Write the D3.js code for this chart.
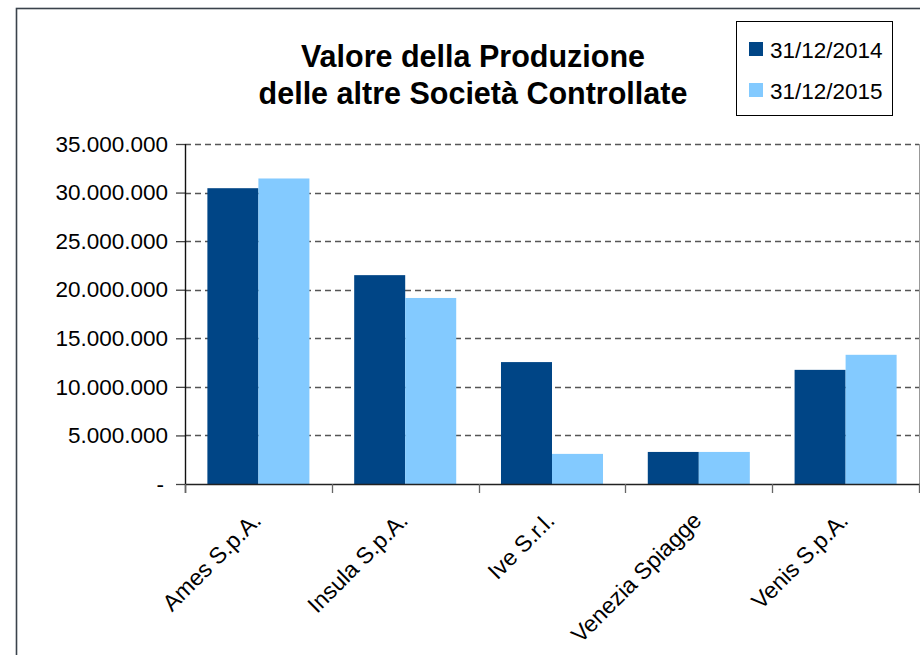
<!DOCTYPE html>
<html>
<head>
<meta charset="utf-8">
<script src="https://cdn.jsdelivr.net/npm/d3@7"></script>
<style>
  body { margin: 0; background: #fff; }
  svg { display: block; font-family: "Liberation Sans", Arial, sans-serif; }
</style>
</head>
<body>
<script>
// dati
var categories = ["Ames S.p.A.", "Insula S.p.A.", "Ive S.r.l.", "Venezia Spiagge", "Venis S.p.A."];
var series = ["31/12/2014", "31/12/2015"];
var values2014 = [30450000, 21500000, 12550000, 3300000, 11750000];
var values2015 = [31450000, 19150000, 3100000, 3300000, 13300000];
var yTicks = [0, 5000000, 10000000, 15000000, 20000000, 25000000, 30000000, 35000000];
var colors = ["#004586", "#83caff"];
var titleLines = ["Valore della Produzione", "delle altre Società Controllate"];

var width = 920, height = 655;
var svg = d3.select("body").append("svg")
  .attr("width", width)
  .attr("height", height);

// bordo esterno
svg.append("rect")
  .attr("x", 16.5).attr("y", 8.5)
  .attr("width", 1000).attr("height", 1000)
  .attr("fill", "none")
  .attr("stroke", "#3a434c")
  .attr("stroke-width", 1.6);

var plot = {left: 185, top: 144, right: 919, bottom: 484};

var y = d3.scaleLinear().domain([0, 35000000]).range([plot.bottom, plot.top]);
var x = d3.scaleBand().domain(categories).range([plot.left, plot.right])
  .paddingInner(0.305).paddingOuter(0.1525);
var xs = d3.scaleBand().domain(series).range([0, x.bandwidth()]);

// griglia
svg.append("g").selectAll("line").data(yTicks.slice(1)).enter().append("line")
  .attr("x1", plot.left).attr("x2", plot.right)
  .attr("y1", function (d) { return Math.round(y(d)) + 0.5; })
  .attr("y2", function (d) { return Math.round(y(d)) + 0.5; })
  .attr("stroke", "#555")
  .attr("stroke-width", 1.3)
  .attr("stroke-dasharray", "6,4");

// bordo destro area grafico
svg.append("line")
  .attr("x1", plot.right + 0.5).attr("x2", plot.right + 0.5)
  .attr("y1", plot.top).attr("y2", plot.bottom)
  .attr("stroke", "#999");

// barre
var rows = categories.map(function (c, i) {
  return {cat: c, vals: [values2014[i], values2015[i]]};
});
var groups = svg.append("g").selectAll("g").data(rows).enter().append("g")
  .attr("transform", function (d) { return "translate(" + x(d.cat) + ",0)"; });
groups.selectAll("rect").data(function (d) {
  return d.vals.map(function (v, j) { return {s: series[j], v: v, j: j}; });
}).enter().append("rect")
  .attr("x", function (d) { return xs(d.s); })
  .attr("y", function (d) { return y(d.v); })
  .attr("width", xs.bandwidth())
  .attr("height", function (d) { return plot.bottom - y(d.v); })
  .attr("fill", function (d) { return colors[d.j]; });

// asse y
var yAxis = d3.axisLeft(y).tickValues(yTicks).tickSize(9).tickPadding(8)
  .tickFormat(function (d) {
    return d === 0 ? "-" : d3.format(",")(d).replace(/,/g, ".");
  });
var gy = svg.append("g").attr("transform", "translate(" + plot.left + ",0)").call(yAxis);
gy.select(".domain").remove();
gy.selectAll(".tick line").attr("stroke", "#444").attr("stroke-width", 1.3);
gy.selectAll("text").attr("font-size", 22.5).attr("fill", "#000");
gy.select(".tick text").attr("dx", -4);

svg.append("line")
  .attr("x1", plot.left + 0.5).attr("x2", plot.left + 0.5)
  .attr("y1", plot.top).attr("y2", plot.bottom + 9)
  .attr("stroke", "#111").attr("stroke-width", 1.4);

// asse x
var bounds = d3.range(categories.length + 1).map(function (i) {
  return plot.left + i * x.step();
});
svg.append("line")
  .attr("x1", plot.left).attr("x2", plot.right + 1)
  .attr("y1", plot.bottom + 0.5).attr("y2", plot.bottom + 0.5)
  .attr("stroke", "#222").attr("stroke-width", 1.6);
svg.append("g").selectAll("line").data(bounds).enter().append("line")
  .attr("x1", function (d) { return Math.round(d) + 0.5; })
  .attr("x2", function (d) { return Math.round(d) + 0.5; })
  .attr("y1", plot.bottom).attr("y2", plot.bottom + 9)
  .attr("stroke", "#666").attr("stroke-width", 1.3);

svg.append("g").selectAll("text").data(categories).enter().append("text")
  .attr("transform", function (d) {
    return "translate(" + (x(d) + x.bandwidth() / 2 + 4) + "," + 522 + ") rotate(-45)";
  })
  .attr("text-anchor", "end")
  .attr("font-size", 23)
  .text(function (d) { return d; });

// titolo
svg.append("text")
  .attr("x", 473).attr("y", 67)
  .attr("text-anchor", "middle")
  .attr("font-size", 30.5).attr("font-weight", "bold")
  .selectAll("tspan").data(titleLines).enter().append("tspan")
  .attr("x", 473)
  .attr("dy", function (d, i) { return i === 0 ? 0 : 37; })
  .text(function (d) { return d; });

// legenda
var leg = svg.append("g");
leg.append("rect")
  .attr("x", 736.5).attr("y", 21.5).attr("width", 156).attr("height", 94)
  .attr("fill", "#fff").attr("stroke", "#000");
var items = leg.selectAll("g").data(series).enter().append("g")
  .attr("transform", function (d, i) { return "translate(749," + (42 + i * 41) + ")"; });
items.append("rect")
  .attr("width", 14).attr("height", 14)
  .attr("fill", function (d, i) { return colors[i]; });
items.append("text")
  .attr("x", 21).attr("y", 16)
  .attr("font-size", 22.5)
  .text(function (d) { return d; });
</script>
</body>
</html>
